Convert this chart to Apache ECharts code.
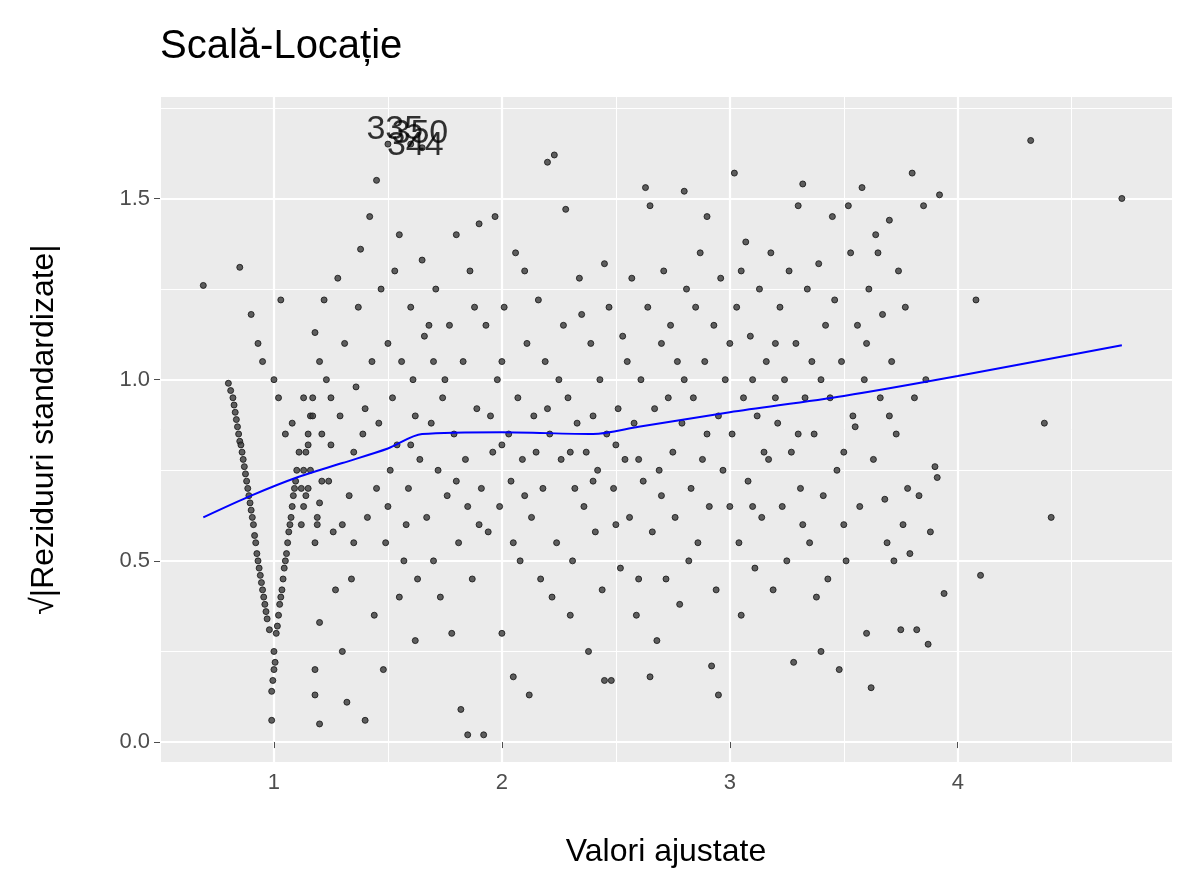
<!DOCTYPE html>
<html>
<head>
<meta charset="utf-8">
<script src="https://cdn.jsdelivr.net/npm/echarts@6/dist/echarts.min.js"></script>
<style>html,body{margin:0;padding:0;background:#fff}#c{width:1195px;height:896px}</style>
</head>
<body>
<div id="c"></div>
<script>
// puncte (valori ajustate, sqrt|reziduuri|)
var puncte = [
[0.69,1.26],[0.85,1.31],[0.9,1.18],[0.93,1.1],[0.95,1.05],
[0.8,0.99],[0.82,0.95],[0.83,0.91],[0.84,0.87],[0.85,0.83],[0.86,0.8],[0.87,0.76],[0.88,0.72],[0.89,0.68],[0.9,0.64],[0.91,0.6],[0.92,0.55],[0.93,0.5],[0.94,0.46],[0.95,0.42],[0.96,0.38],[0.97,0.34],[0.98,0.31],
[0.81,0.97],[0.825,0.93],[0.835,0.89],[0.845,0.85],[0.855,0.82],[0.865,0.78],[0.875,0.74],[0.885,0.7],[0.895,0.66],[0.905,0.62],[0.915,0.57],[0.925,0.52],[0.935,0.48],[0.945,0.44],[0.955,0.4],[0.965,0.36],
[0.99,0.06],[0.99,0.14],[1.0,0.2],[1.0,0.25],[1.01,0.3],[1.02,0.35],[1.03,0.4],[1.04,0.45],[1.05,0.5],[1.06,0.55],[1.07,0.6],[1.08,0.65],[1.09,0.7],[1.1,0.75],[1.11,0.8],
[0.995,0.17],[1.005,0.22],[1.015,0.32],[1.025,0.38],[1.035,0.42],[1.045,0.48],[1.055,0.52],[1.065,0.58],[1.075,0.62],[1.085,0.68],[1.095,0.72],
[1.12,0.7],[1.13,0.75],[1.14,0.8],[1.15,0.85],[1.16,0.9],[1.17,0.95],[1.13,0.65],[1.14,0.68],[1.18,0.55],[1.19,0.6],[1.2,0.66],[1.21,0.72],
[1.0,1.0],[1.02,0.95],[1.03,1.22],[1.05,0.85],[1.08,0.88],[1.12,0.6],[1.15,0.7],[1.15,0.82],[1.17,0.9],[1.18,1.13],[1.2,1.05],[1.2,0.05],[1.18,0.13],[1.18,0.2],[1.2,0.33],[1.22,1.22],[1.25,0.95],[1.27,0.42],[1.28,1.28],[1.3,0.25],[1.32,0.11],[1.35,0.8],[1.35,0.55],[1.38,1.36],[1.4,0.06],[1.42,1.45],[1.45,1.55],[1.45,0.7],[1.48,0.2],[1.5,1.1],[1.52,0.95],[1.55,0.4],[1.55,1.4],[1.58,0.6],[1.6,1.2],[1.62,0.28],[1.62,0.9],[1.65,1.33],[1.68,1.15],[1.7,0.5],[1.72,0.75],[1.75,1.0],[1.78,0.3],[1.8,1.4],[1.82,0.09],[1.85,0.02],[1.85,0.65],[1.88,1.2],[1.9,1.43],[1.92,0.02],[1.95,0.9],[1.97,1.45],[2.0,0.3],[2.0,1.05],[2.05,0.55],[2.05,0.18],[2.1,1.3],[2.12,0.13],[2.15,0.8],[2.2,1.6],[2.23,1.62],[2.22,0.4],[2.25,1.0],[2.28,1.47],[2.3,0.35],[2.32,0.7],[2.35,1.18],[2.38,0.25],[2.4,0.9],[2.45,1.32],[2.45,0.17],[2.48,0.17],[2.5,0.6],[2.55,1.05],[2.6,0.45],[2.63,1.53],[2.65,1.48],[2.65,0.18],[2.68,0.28],[2.7,1.1],[2.75,0.8],[2.8,1.52],[2.82,0.5],[2.85,1.2],[2.9,1.45],[2.92,0.21],[2.95,0.13],[2.95,0.9],[3.0,0.65],[3.02,1.57],[3.05,1.3],[3.05,0.35],[3.1,1.0],[3.15,0.8],[3.2,1.1],[3.28,0.22],[3.3,1.48],[3.32,0.6],[3.32,1.54],[3.38,0.4],[3.4,0.25],[3.45,1.45],[3.48,0.2],[3.5,0.6],[3.52,1.48],[3.55,0.87],[3.58,1.53],[3.6,0.3],[3.62,0.15],[3.65,1.35],[3.68,0.67],[3.7,1.44],[3.72,0.5],[3.75,0.31],[3.78,0.7],[3.8,1.57],[3.82,0.31],[3.85,1.48],[3.87,0.27],[3.9,0.76],[3.92,1.51],[3.94,0.41],[4.08,1.22],[4.1,0.46],[4.32,1.66],[4.38,0.88],[4.41,0.62],[4.72,1.5],
[1.5,1.65],[1.6,1.65],[1.65,1.64],
[1.13,0.95],[1.16,0.75],[1.19,0.62],[1.21,0.85],[1.23,1.0],[1.24,0.72],[1.26,0.58],[1.29,0.9],[1.31,1.1],[1.33,0.68],[1.34,0.45],[1.36,0.98],[1.37,1.2],[1.39,0.85],[1.41,0.62],[1.43,1.05],[1.44,0.35],[1.46,0.88],[1.47,1.25],[1.49,0.55],[1.51,0.75],[1.53,1.3],[1.54,0.82],[1.56,1.05],[1.57,0.5],[1.59,0.7],[1.61,1.0],[1.63,0.45],[1.64,0.78],[1.66,1.12],[1.67,0.62],[1.69,0.88],[1.71,1.25],[1.73,0.4],[1.74,0.95],[1.76,0.68],[1.77,1.15],[1.79,0.85],[1.81,0.55],[1.83,1.05],[1.84,0.78],[1.86,1.3],[1.87,0.45],[1.89,0.92],[1.91,0.7],[1.93,1.15],[1.94,0.58],[1.96,0.8],[1.98,1.0],[1.99,0.65],
[2.01,1.2],[2.03,0.85],[2.04,0.72],[2.06,1.35],[2.07,0.95],[2.08,0.5],[2.09,0.78],[2.11,1.1],[2.13,0.62],[2.14,0.9],[2.16,1.22],[2.17,0.45],[2.18,0.7],[2.19,1.05],[2.21,0.85],[2.24,0.55],[2.26,0.78],[2.27,1.15],[2.29,0.95],[2.31,0.5],[2.33,0.88],[2.34,1.28],[2.36,0.65],[2.37,0.8],[2.39,1.1],[2.41,0.58],[2.42,0.75],[2.43,1.0],[2.44,0.42],[2.46,0.85],[2.47,1.2],[2.49,0.7],[2.51,0.92],[2.52,0.48],[2.53,1.12],[2.54,0.78],[2.56,0.62],[2.57,1.28],[2.58,0.88],[2.59,0.35],[2.61,1.0],[2.62,0.72],[2.64,1.2],[2.66,0.58],[2.67,0.92],[2.69,0.75],[2.71,1.3],[2.72,0.45],[2.73,0.95],[2.74,1.15],[2.76,0.62],[2.77,1.05],[2.78,0.38],[2.79,0.88],[2.81,1.25],[2.83,0.7],[2.84,0.95],[2.86,0.55],[2.87,1.35],[2.88,0.78],[2.89,1.05],[2.91,0.65],[2.93,1.15],[2.94,0.42],[2.96,1.28],[2.97,0.75],[2.98,1.0],
[3.01,0.85],[3.03,1.2],[3.04,0.55],[3.06,0.95],[3.07,1.38],[3.08,0.72],[3.09,1.12],[3.11,0.48],[3.12,0.9],[3.13,1.25],[3.14,0.62],[3.16,1.05],[3.17,0.78],[3.18,1.35],[3.19,0.42],[3.21,0.88],[3.22,1.2],[3.23,0.65],[3.24,1.0],[3.25,0.5],[3.26,1.3],[3.27,0.8],[3.29,1.1],[3.31,0.7],[3.33,0.95],[3.34,1.25],[3.35,0.55],[3.36,1.05],[3.37,0.85],[3.39,1.32],[3.41,0.68],[3.42,1.15],[3.43,0.45],[3.44,0.95],[3.46,1.22],[3.47,0.75],[3.49,1.05],[3.51,0.5],[3.53,1.35],[3.54,0.9],[3.56,1.15],[3.57,0.65],[3.59,1.0],[3.61,1.25],[3.63,0.78],[3.64,1.4],[3.66,0.95],[3.67,1.18],[3.69,0.55],[3.71,1.05],[3.73,0.85],[3.74,1.3],[3.76,0.6],[3.77,1.2],[3.79,0.52],[3.81,0.95],[3.83,0.68],[3.86,1.0],[3.88,0.58],[3.91,0.73],
[1.25,0.82],[1.3,0.6],[1.4,0.92],[1.5,0.65],[1.6,0.82],[1.7,1.05],[1.8,0.72],[1.9,0.6],[2.0,0.82],[2.1,0.68],[2.2,0.92],[2.3,0.8],[2.4,0.72],[2.5,0.82],[2.6,0.78],[2.7,0.68],[2.8,1.0],[2.9,0.85],[3.0,1.1],[3.1,0.65],[3.2,0.95],[3.3,0.85],[3.4,1.0],[3.5,0.8],[3.6,1.1],[3.7,0.9]
];
var netezire = [[0.69,0.62],[0.9,0.68],[1.1,0.73],[1.3,0.77],[1.5,0.81],[1.65,0.85],[2.0,0.855],[2.4,0.85],[2.6,0.87],[3.0,0.91],[3.5,0.955],[4.0,1.01],[4.72,1.095]];
var etichete = [[1.53,1.69,'335'],[1.64,1.68,'350'],[1.62,1.645,'344']];
var xMajor = [1,2,3,4], xMinor = [0.5,1.5,2.5,3.5,4.5];
var yMajor = [0,0.5,1.0,1.5], yMinor = [0.25,0.75,1.25,1.75];

function linii(xs, ys, w) {
    var d = [];
    xs.forEach(function (v) { d.push({xAxis: v}); });
    ys.forEach(function (v) { d.push({yAxis: v}); });
    return {silent: true, symbol: 'none', label: {show: false}, z: 0,
        lineStyle: {color: '#fff', width: w, type: 'solid'}, data: d};
}

var chart = echarts.init(document.getElementById('c'));
chart.setOption({
    animation: false,
    title: {text: 'Scală-Locație', left: 155, top: 22,
        textStyle: {fontFamily: 'Liberation Sans', fontSize: 40, fontWeight: 'normal', color: '#000'}},
    grid: {left: 160, right: 23, top: 97, bottom: 134, show: true, backgroundColor: '#EBEBEB', borderWidth: 0},
    xAxis: {type: 'value', min: 0.5, max: 4.94,
        name: 'Valori ajustate', nameLocation: 'middle', nameGap: 74,
        nameTextStyle: {fontFamily: 'Liberation Sans', fontSize: 32, color: '#000'},
        axisLine: {show: false}, splitLine: {show: false},
        axisTick: {show: true, length: 6, lineStyle: {color: '#4D4D4D'}, customValues: xMajor},
        axisLabel: {customValues: xMajor, fontFamily: 'Liberation Sans', fontSize: 22, color: '#4D4D4D', margin: 10}},
    yAxis: {type: 'value', min: -0.055, max: 1.78,
        name: '√|Reziduuri standardizate|', nameLocation: 'middle', nameGap: 100, nameRotate: 90,
        nameTextStyle: {fontFamily: 'Liberation Sans', fontSize: 32, color: '#000'},
        axisLine: {show: false}, splitLine: {show: false},
        axisTick: {show: true, length: 6, lineStyle: {color: '#4D4D4D'}, customValues: yMajor},
        axisLabel: {customValues: yMajor, fontFamily: 'Liberation Sans', fontSize: 22, color: '#4D4D4D', margin: 10,
            formatter: function (v) { return v.toFixed(1); }}},
    series: [
        {type: 'line', data: [], z: 0, zlevel: 0, markLine: linii(xMinor, yMinor, 1)},
        {type: 'line', data: [], z: 0, zlevel: 0, markLine: linii(xMajor, yMajor, 2.2)},
        {type: 'scatter', data: puncte, z: 10, zlevel: 1, symbolSize: 6,
            itemStyle: {color: '#3a3a3a', borderColor: '#111', borderWidth: 1}},
        {type: 'line', data: netezire, z: 11, zlevel: 1, smooth: 0.3, showSymbol: false,
            lineStyle: {color: '#0000FF', width: 2}},
        {type: 'scatter', z: 12, zlevel: 1, symbolSize: 0,
            data: etichete.map(function (e) { return {value: [e[0], e[1]], name: e[2]}; }),
            label: {show: true, position: 'inside', formatter: '{b}',
                fontFamily: 'Liberation Sans', fontSize: 34, color: '#000'}}
    ]
});
</script>
</body>
</html>
